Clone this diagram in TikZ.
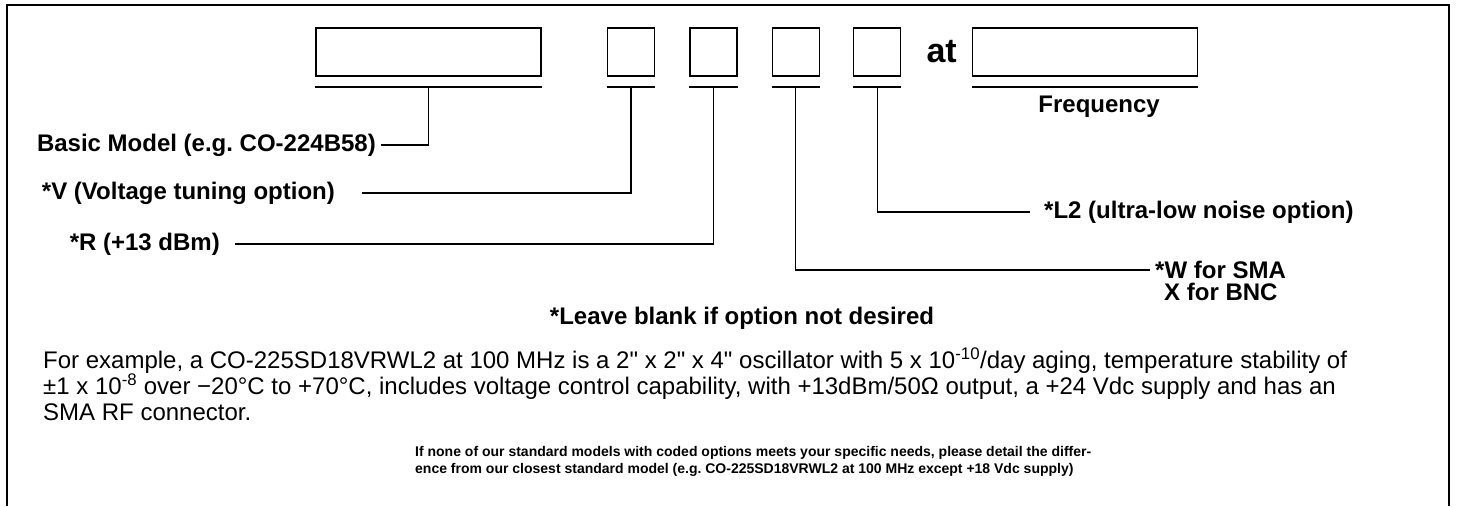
\documentclass[tikz,border=0pt]{standalone}
\usepackage{fontspec}
\setmainfont{Liberation Sans}
\usetikzlibrary{positioning}

\begin{document}
\begin{tikzpicture}[x=1pt, y=-1pt,
    slot/.style={draw, line width=1.4pt, minimum height=48pt, inner sep=0pt},
    optlabel/.style={font=\fontsize{24}{28}\selectfont\bfseries, inner sep=0pt},
    lead/.style={line width=1.2pt},
    rule/.style={line width=1.6pt}]
  \useasboundingbox (0,0) rectangle (1458,506);
  % frame, open at the bottom
  \draw[line width=2.6pt] (7,506) |- (1449,5) -- (1449,506);

  % code boxes
  \node[slot, minimum width=225pt] (basic) at (428.5,52) {};
  \node[slot, minimum width=47pt, right=65pt of basic] (vBox) {};
  \node[slot, minimum width=47pt, right=34pt of vBox] (rBox) {};
  \node[slot, minimum width=47pt, right=34pt of rBox] (wBox) {};
  \node[slot, minimum width=47pt, right=33pt of wBox] (lBox) {};
  \node[font=\fontsize{34}{38}\selectfont\bfseries, inner sep=0pt, right=25pt of lBox] (at) {at};
  \node[slot, minimum width=225pt, right=15pt of at] (freq) {};
  \node[optlabel, below=19pt of freq.south, xshift=14pt] (freqLbl) {Frequency};

  % underlines
  \foreach \b in {basic, vBox, rBox, wBox, lBox, freq}
    \draw[rule] ([yshift=-10pt]\b.south west) -- ([yshift=-10pt]\b.south east);

  % taps and free ends of the leads
  \foreach \b in {basic, vBox, rBox, wBox, lBox}
    \coordinate (\b Tap) at ([yshift=-10pt]\b.south);
  \coordinate (basicEnd) at (381,145);
  \coordinate (vEnd) at (362,193);
  \coordinate (rEnd) at (235,244);
  \coordinate (lEnd) at (1030,212);
  \coordinate (wEnd) at (1150,270);

  % option labels
  \node[optlabel, left=5pt of basicEnd] (basicLbl) {Basic Model (e.g.\ CO-224B58)};
  \node[optlabel, left=27pt of vEnd] (vLbl) {*V (Voltage tuning option)};
  \node[optlabel, left=15pt of rEnd] (rLbl) {*R (+13 dBm)};
  \node[optlabel, right=14pt of lEnd] (lLbl) {*L2 (ultra-low noise option)};
  \node[optlabel, right=5pt of wEnd] (wLbl) {*W for SMA};
  \node[optlabel, anchor=north west] (xLbl) at ([xshift=9pt, yshift=-4pt]wLbl.south west) {X for BNC};

  % leads
  \draw[lead] (basicTap) |- (basicEnd);
  \draw[lead] (vBoxTap) |- (vEnd);
  \draw[lead] (rBoxTap) |- (rEnd);
  \draw[lead] (lBoxTap) |- (lEnd);
  \draw[lead] (wBoxTap) |- (wEnd);

  % notes
  \node[font=\fontsize{24}{28}\selectfont\bfseries] (blankNote) at (742,318) {*Leave blank if option not desired};
  \node[anchor=north west, align=left, inner sep=0pt, font=\fontsize{24}{26}\selectfont] (example) at (43,348)
    {For example, a CO-225SD18VRWL2 at 100 MHz is a 2\textquotedbl{} x 2\textquotedbl{} x 4\textquotedbl{} oscillator with 5 x 10\textsuperscript{-10}/day aging, temperature stability of\\
     ±1 x 10\textsuperscript{-8} over −20°C to +70°C, includes voltage control capability, with +13dBm/50Ω output, a +24 Vdc supply and has an\\
     SMA RF connector.};
  \node[anchor=north west, align=left, inner sep=0pt, font=\fontsize{14}{17}\selectfont\bfseries] (custom) at (415,446)
    {If none of our standard models with coded options meets your specific needs, please detail the differ-\\
     ence from our closest standard model (e.g.\ CO-225SD18VRWL2 at 100 MHz except +18 Vdc supply)};
\end{tikzpicture}
\end{document}
